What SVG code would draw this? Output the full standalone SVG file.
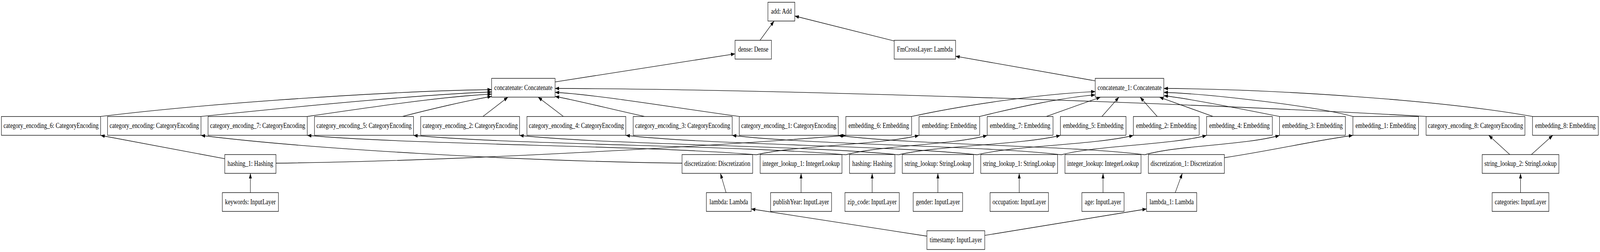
<svg xmlns="http://www.w3.org/2000/svg" width="5222" height="644" viewBox="0 0 5222 644" preserveAspectRatio="none" style="max-width:100vw">
<defs>
<style>
.n rect{fill:#fff;stroke:#000;stroke-width:1.33}
.n text{font-family:"Liberation Serif","Times New Roman",serif;font-size:18.67px;text-anchor:middle;fill:#000}
.e path{fill:none;stroke:#000;stroke-width:1.33;marker-end:url(#ah)}
</style>
<marker id="ah" markerUnits="userSpaceOnUse" viewBox="0 0 13.3 9.4" refX="13.3" refY="4.7" markerWidth="13.3" markerHeight="9.4" orient="auto">
<path d="M0,0 L13.3,4.7 L0,9.4 z" fill="#000"/>
</marker>
</defs>
<rect width="5222" height="644" fill="#fff"/>
<g class="e" id="connectors">
<path d="M2480.5,103 L2526.4,53.8"/>
<path d="M2918.4,104.7 L2594,41"/>
<path d="M1811.7,209.4 L2399,137.6"/>
<path d="M3574.5,206.6 L3118.8,143.7"/>
<path d="M328.4,297.7 C700,262 1300,232 1604.5,229"/>
<path d="M656,297.7 C850,282 1350,242 1604.5,235"/>
<path d="M1002.8,297.7 C1200,275 1450,246 1604.5,240.5"/>
<path d="M1313.4,297.7 C1400,280 1530,256 1604.5,246.5"/>
<path d="M1576,297.7 L1658,248.3"/>
<path d="M1839,297.7 L1756,248.3"/>
<path d="M2104,297.7 C2000,280 1880,256 1811.7,246.5"/>
<path d="M2412.7,297.7 C2200,275 1950,242 1811.7,236"/>
<path d="M4654.4,297.7 C3800,260 2500,228 1811.7,226"/>
<path d="M2975.3,297.7 C3150,268 3400,240 3574.5,234"/>
<path d="M3197.4,297.7 C3330,272 3480,248 3574.5,242.5"/>
<path d="M3415,297.7 L3591.8,248.3"/>
<path d="M3596.3,297.7 L3652,248.3"/>
<path d="M3777,297.7 L3721,248.3"/>
<path d="M3959,297.7 L3784,248.3"/>
<path d="M4176,297.7 C4050,278 3880,252 3798.4,244.5"/>
<path d="M4415.6,297.7 C4300,272 3950,240 3798.4,236"/>
<path d="M5001.7,297.7 C4700,255 4150,228 3798.4,226"/>
<path d="M733.6,405.7 L328.4,346"/>
<path d="M900.7,417 C1500,412 2350,372 2760.6,346"/>
<path d="M2226,417 C1700,412 1000,380 656,346"/>
<path d="M2468.5,395.5 C2102.1,371 1369.4,371 1002.8,346"/>
<path d="M2468.5,395.5 C2601.2,371 2866.7,371 2999.4,346"/>
<path d="M2760.5,395.5 C2407.8,371 1702.3,371 1349.6,346"/>
<path d="M2760.5,395.5 C2875.9,371 3106.6,371 3222,346"/>
<path d="M2933,395.5 C2623.7,371 2005,371 1695.7,346"/>
<path d="M2933,395.5 C3065,371 3329,371 3460.9,346"/>
<path d="M3189,395.5 C2902.3,371 2329.1,371 2042.4,346"/>
<path d="M3189,395.5 C3316.5,371 3571.5,371 3699,346"/>
<path d="M3464,395.5 C3195.4,371 2658.3,371 2389.7,346"/>
<path d="M3464,395.5 C3582.5,371 3819.5,371 3938,346"/>
<path d="M3736,395.5 C3486,371 2986,371 2735.9,346"/>
<path d="M3736,395.5 C3846,371 4066,371 4176,346"/>
<path d="M3996,403 C4150,385 4300,358 4415.6,346"/>
<path d="M4927.6,395 L4858.7,345.7"/>
<path d="M4998,395 L5068,345.7"/>
<path d="M817.2,492.3 L817.2,443"/>
<path d="M2369.7,492.3 L2351.3,443"/>
<path d="M2614.5,492.3 L2614.5,443"/>
<path d="M2846.5,492.3 L2846.5,443"/>
<path d="M3061,492.3 L3061,443"/>
<path d="M3326.5,492.3 L3326.5,443"/>
<path d="M3600,492.3 L3600,443"/>
<path d="M3835.7,492.3 L3858.7,443"/>
<path d="M4962.6,492.3 L4962.6,443"/>
<path d="M3025.2,603.5 L2451.8,534"/>
<path d="M3214,601.6 L3742,534"/>
</g>
<g class="n" id="add"><rect x="2506.3" y="5.7" width="87.7" height="48"/><text x="2550.2" y="35.2">add: Add</text></g>
<g class="n" id="dense"><rect x="2399" y="103" width="118.8" height="48"/><text x="2458.4" y="132.5">dense: Dense</text></g>
<g class="n" id="FmCrossLayer"><rect x="2918.4" y="103" width="200.4" height="48"/><text x="3018.6" y="132.5">FmCrossLayer: Lambda</text></g>
<g class="n" id="concatenate"><rect x="1604.5" y="200.3" width="207.2" height="48"/><text x="1708.1" y="229.8">concatenate: Concatenate</text></g>
<g class="n" id="concatenate_1"><rect x="3574.5" y="200.3" width="223.9" height="48"/><text x="3686.5" y="229.8">concatenate_1: Concatenate</text></g>
<g class="n" id="category_encoding_6"><rect x="4.6" y="297.7" width="323.8" height="48"/><text x="166.5" y="327.2">category_encoding_6: CategoryEncoding</text></g>
<g class="n" id="category_encoding"><rect x="351" y="297.7" width="305" height="48"/><text x="503.5" y="327.2">category_encoding: CategoryEncoding</text></g>
<g class="n" id="category_encoding_7"><rect x="679" y="297.7" width="323.8" height="48"/><text x="840.9" y="327.2">category_encoding_7: CategoryEncoding</text></g>
<g class="n" id="category_encoding_5"><rect x="1026.4" y="297.7" width="323.2" height="48"/><text x="1188" y="327.2">category_encoding_5: CategoryEncoding</text></g>
<g class="n" id="category_encoding_2"><rect x="1373" y="297.7" width="322.7" height="48"/><text x="1534.35" y="327.2">category_encoding_2: CategoryEncoding</text></g>
<g class="n" id="category_encoding_4"><rect x="1719.8" y="297.7" width="322.6" height="48"/><text x="1881.1" y="327.2">category_encoding_4: CategoryEncoding</text></g>
<g class="n" id="category_encoding_3"><rect x="2066.6" y="297.7" width="323.1" height="48"/><text x="2228.15" y="327.2">category_encoding_3: CategoryEncoding</text></g>
<g class="n" id="category_encoding_1"><rect x="2412.7" y="297.7" width="323.2" height="48"/><text x="2574.3" y="327.2">category_encoding_1: CategoryEncoding</text></g>
<g class="n" id="embedding_6"><rect x="2760.6" y="297.7" width="214.7" height="48"/><text x="2867.95" y="327.2">embedding_6: Embedding</text></g>
<g class="n" id="embedding"><rect x="2999.4" y="297.7" width="198" height="48"/><text x="3098.4" y="327.2">embedding: Embedding</text></g>
<g class="n" id="embedding_7"><rect x="3222" y="297.7" width="214.8" height="48"/><text x="3329.4" y="327.2">embedding_7: Embedding</text></g>
<g class="n" id="embedding_5"><rect x="3460.9" y="297.7" width="214.1" height="48"/><text x="3567.95" y="327.2">embedding_5: Embedding</text></g>
<g class="n" id="embedding_2"><rect x="3699" y="297.7" width="214.8" height="48"/><text x="3806.4" y="327.2">embedding_2: Embedding</text></g>
<g class="n" id="embedding_4"><rect x="3938" y="297.7" width="214.6" height="48"/><text x="4045.3" y="327.2">embedding_4: Embedding</text></g>
<g class="n" id="embedding_3"><rect x="4176" y="297.7" width="215" height="48"/><text x="4283.5" y="327.2">embedding_3: Embedding</text></g>
<g class="n" id="embedding_1"><rect x="4415.6" y="297.7" width="214.1" height="48"/><text x="4522.65" y="327.2">embedding_1: Embedding</text></g>
<g class="n" id="category_encoding_8"><rect x="4654.4" y="297.7" width="322.6" height="48"/><text x="4815.7" y="327.2">category_encoding_8: CategoryEncoding</text></g>
<g class="n" id="embedding_8"><rect x="5001.7" y="297.7" width="214.7" height="48"/><text x="5109.05" y="327.2">embedding_8: Embedding</text></g>
<g class="n" id="hashing_1"><rect x="733.6" y="395" width="167.1" height="48"/><text x="817.15" y="424.5">hashing_1: Hashing</text></g>
<g class="n" id="discretization"><rect x="2226" y="395" width="230.5" height="48"/><text x="2341.25" y="424.5">discretization: Discretization</text></g>
<g class="n" id="integer_lookup_1"><rect x="2481" y="395" width="267" height="48"/><text x="2614.5" y="424.5">integer_lookup_1: IntegerLookup</text></g>
<g class="n" id="hashing"><rect x="2772.6" y="395" width="148.1" height="48"/><text x="2846.65" y="424.5">hashing: Hashing</text></g>
<g class="n" id="string_lookup"><rect x="2944.8" y="395" width="232.5" height="48"/><text x="3061.05" y="424.5">string_lookup: StringLookup</text></g>
<g class="n" id="string_lookup_1"><rect x="3200.9" y="395" width="250.8" height="48"/><text x="3326.3" y="424.5">string_lookup_1: StringLookup</text></g>
<g class="n" id="integer_lookup"><rect x="3475.8" y="395" width="248.2" height="48"/><text x="3599.9" y="424.5">integer_lookup: IntegerLookup</text></g>
<g class="n" id="discretization_1"><rect x="3748" y="395" width="248" height="48"/><text x="3872" y="424.5">discretization_1: Discretization</text></g>
<g class="n" id="string_lookup_2"><rect x="4837.5" y="395" width="250.3" height="48"/><text x="4962.65" y="424.5">string_lookup_2: StringLookup</text></g>
<g class="n" id="keywords"><rect x="725.6" y="492.3" width="183.1" height="48"/><text x="817.15" y="521.8">keywords: InputLayer</text></g>
<g class="n" id="lambda"><rect x="2305.4" y="492.3" width="146.4" height="48"/><text x="2378.6" y="521.8">lambda: Lambda</text></g>
<g class="n" id="publishYear"><rect x="2515" y="492.3" width="199" height="48"/><text x="2614.5" y="521.8">publishYear: InputLayer</text></g>
<g class="n" id="zip_code"><rect x="2757.7" y="492.3" width="177.3" height="48"/><text x="2846.35" y="521.8">zip_code: InputLayer</text></g>
<g class="n" id="gender"><rect x="2980.4" y="492.3" width="161.3" height="48"/><text x="3061.05" y="521.8">gender: InputLayer</text></g>
<g class="n" id="occupation"><rect x="3231.3" y="492.3" width="190.6" height="48"/><text x="3326.6" y="521.8">occupation: InputLayer</text></g>
<g class="n" id="age"><rect x="3531" y="492.3" width="137.7" height="48"/><text x="3599.85" y="521.8">age: InputLayer</text></g>
<g class="n" id="lambda_1"><rect x="3742" y="492.3" width="163.8" height="48"/><text x="3823.9" y="521.8">lambda_1: Lambda</text></g>
<g class="n" id="categories"><rect x="4870" y="492.3" width="185" height="48"/><text x="4962.5" y="521.8">categories: InputLayer</text></g>
<g class="n" id="timestamp"><rect x="3025.2" y="589.6" width="188.8" height="48"/><text x="3119.6" y="619.1">timestamp: InputLayer</text></g>
</svg>
